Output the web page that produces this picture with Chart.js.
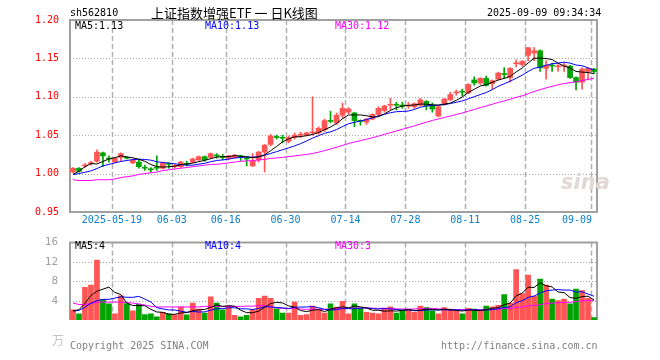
<!DOCTYPE html>
<html><head><meta charset="utf-8">
<script src="https://cdn.jsdelivr.net/npm/chart.js@4/dist/chart.umd.min.js"></script>
<style>
html,body{margin:0;padding:0;background:#fff;width:660px;height:360px;overflow:hidden;position:relative;}
.t{position:absolute;white-space:nowrap;font:10px 'DejaVu Sans Mono',monospace;line-height:12px;}
canvas{position:absolute;left:0;}
</style></head><body>
<canvas id="k" style="top:0" width="660" height="232"></canvas>
<canvas id="v" style="top:232px" width="660" height="128"></canvas>
<div class="t" style="left:70px;top:7px;color:#000">sh562810</div>
<div class="t" style="left:151px;top:5px;color:#000;font:13px 'Noto Sans CJK SC';line-height:16px">上证指数增强ETF 一 日K线图</div>
<div class="t" style="left:487px;top:7px;color:#000">2025-09-09 09:34:34</div>
<div class="t" id="m5" style="left:75px;top:20px;color:#000"></div>
<div class="t" id="m10" style="left:205px;top:20px;color:#0000ff"></div>
<div class="t" id="m30" style="left:335px;top:20px;color:#ff00ff"></div>
<div class="t" id="v5" style="left:75px;top:240px;color:#000"></div>
<div class="t" id="v10" style="left:205px;top:240px;color:#0000ff"></div>
<div class="t" id="v30" style="left:335px;top:240px;color:#ff00ff"></div>
<div class="t" style="left:52px;top:333px;color:#c4c4c4;font:12px 'Noto Sans CJK SC';line-height:14px">万</div>
<div class="t" style="left:70px;top:340px;color:#808080">Copyright 2025 SINA.COM</div>
<div class="t" style="left:441px;top:340px;color:#808080">http://finance.sina.com.cn</div>
<div class="t" style="left:561px;top:170px;color:#e2d8d8;font:italic bold 21px 'DejaVu Sans';line-height:24px">sina</div>
<script>
const dates = [
'2025-05-08','2025-05-09','2025-05-12','2025-05-13','2025-05-14','2025-05-15','2025-05-16','2025-05-19','2025-05-20','2025-05-21',
'2025-05-22','2025-05-23','2025-05-26','2025-05-27','2025-05-28','2025-05-29','2025-05-30','2025-06-03','2025-06-04','2025-06-05',
'2025-06-06','2025-06-09','2025-06-10','2025-06-11','2025-06-12','2025-06-13','2025-06-16','2025-06-17','2025-06-18','2025-06-19',
'2025-06-20','2025-06-23','2025-06-24','2025-06-25','2025-06-26','2025-06-27','2025-06-30','2025-07-01','2025-07-02','2025-07-03',
'2025-07-04','2025-07-07','2025-07-08','2025-07-09','2025-07-10','2025-07-11','2025-07-14','2025-07-15','2025-07-16','2025-07-17',
'2025-07-18','2025-07-21','2025-07-22','2025-07-23','2025-07-24','2025-07-25','2025-07-28','2025-07-29','2025-07-30','2025-07-31',
'2025-08-01','2025-08-04','2025-08-05','2025-08-06','2025-08-07','2025-08-08','2025-08-11','2025-08-12','2025-08-13','2025-08-14',
'2025-08-15','2025-08-18','2025-08-19','2025-08-20','2025-08-21','2025-08-22','2025-08-25','2025-08-26','2025-08-27','2025-08-28',
'2025-08-29','2025-09-01','2025-09-02','2025-09-03','2025-09-04','2025-09-05','2025-09-08','2025-09-09'];

const openP = [
1.002,1.007,1.010,1.013,1.016,1.027,1.020,1.015,1.021,1.021,
1.014,1.015,1.008,1.006,1.008,1.007,1.013,1.009,1.009,1.013,
1.015,1.018,1.022,1.021,1.024,1.022,1.020,1.021,1.023,1.020,
1.010,1.018,1.028,1.038,1.048,1.047,1.042,1.047,1.050,1.050,
1.053,1.053,1.057,1.069,1.066,1.076,1.080,1.079,1.069,1.067,
1.071,1.077,1.082,1.089,1.090,1.089,1.088,1.087,1.089,1.094,
1.088,1.075,1.090,1.096,1.105,1.107,1.105,1.122,1.118,1.124,
1.117,1.123,1.130,1.125,1.143,1.142,1.154,1.157,1.160,1.137,
1.141,1.139,1.140,1.140,1.125,1.119,1.133,1.136];

const highP = [
1.008,1.008,1.013,1.016,1.031,1.028,1.023,1.021,1.027,1.022,
1.019,1.018,1.011,1.008,1.023,1.015,1.014,1.012,1.016,1.016,
1.020,1.023,1.023,1.027,1.026,1.025,1.024,1.025,1.024,1.022,
1.026,1.029,1.038,1.051,1.050,1.050,1.049,1.053,1.054,1.054,
1.100,1.061,1.071,1.081,1.079,1.092,1.086,1.080,1.070,1.072,
1.078,1.087,1.089,1.098,1.093,1.093,1.093,1.092,1.098,1.095,
1.092,1.088,1.098,1.106,1.109,1.110,1.117,1.126,1.125,1.127,
1.122,1.132,1.138,1.138,1.148,1.147,1.164,1.164,1.161,1.147,
1.144,1.142,1.144,1.141,1.126,1.138,1.138,1.137];

const lowP = [
1.001,1.002,1.008,1.011,1.015,1.009,1.015,1.014,1.016,1.019,
1.013,1.007,1.004,1.002,1.004,1.006,1.007,1.007,1.008,1.010,
1.014,1.017,1.016,1.020,1.020,1.018,1.018,1.020,1.017,1.010,
1.009,1.015,1.002,1.036,1.045,1.040,1.040,1.045,1.047,1.049,
1.050,1.051,1.055,1.066,1.064,1.072,1.078,1.061,1.063,1.064,
1.070,1.075,1.080,1.083,1.083,1.085,1.085,1.085,1.088,1.083,
1.080,1.074,1.089,1.095,1.102,1.101,1.104,1.115,1.116,1.114,
1.110,1.122,1.124,1.119,1.139,1.140,1.147,1.147,1.133,1.123,
1.133,1.133,1.133,1.124,1.109,1.110,1.122,1.130];

const closeP = [
1.007,1.003,1.011,1.014,1.028,1.023,1.019,1.020,1.026,1.020,
1.018,1.009,1.007,1.005,1.007,1.014,1.012,1.010,1.015,1.012,
1.019,1.022,1.018,1.026,1.023,1.021,1.023,1.024,1.022,1.019,
1.016,1.028,1.037,1.049,1.047,1.046,1.047,1.050,1.051,1.053,
1.054,1.059,1.069,1.068,1.076,1.085,1.084,1.069,1.068,1.071,
1.077,1.085,1.088,1.090,1.089,1.088,1.089,1.091,1.096,1.088,
1.084,1.087,1.097,1.103,1.106,1.106,1.116,1.118,1.124,1.115,
1.121,1.131,1.129,1.137,1.144,1.146,1.164,1.160,1.138,1.141,
1.140,1.140,1.141,1.125,1.119,1.136,1.137,1.133];

// volume, in 万
const volume = [
2.08,1.28,6.77,7.2,12.37,4.27,3.36,1.28,5.01,3.41,
1.92,3.3,1.12,1.28,0.64,1.6,1.28,1.07,2.67,1.07,
3.52,2.24,1.44,4.8,3.52,2.08,2.93,0.96,0.64,0.96,
2.08,4.48,4.96,4.48,2.29,1.44,1.44,3.68,0.96,1.12,
2.88,2.24,1.44,3.36,2.67,3.84,1.28,3.36,2.4,1.6,
1.44,1.28,2.4,2.72,1.44,2.08,2.08,1.6,2.88,2.56,
1.92,1.28,2.56,2.24,1.92,1.28,2.4,2.24,1.92,2.88,
2.72,3.04,5.28,3.52,10.4,5.44,9.28,4.96,8.48,7.2,
4.32,4.0,4.32,3.36,6.4,6.08,4.48,0.48];

// moving-average values at the start of the window (they depend on days before the window)
const ma5Head  = [0.999,1.003,1.009,1.013];
const ma10Head = [0.9987,1.000,1.0018,1.0035,1.0066,1.010,1.012,1.014,1.0158];
const ma30Head = [0.992,0.991,0.991,0.991,0.992,0.992,0.992,0.993,0.995,0.996,
                  0.997,0.999,1.000,1.001,1.002,1.004,1.005,1.006,1.007,1.008,
                  1.009,1.010,1.011,1.012,1.012,1.013,1.014,1.015,1.016];
const vma5Head  = [1.87,2.13,3.47,5.07];
const vma10Head = [1.87,1.97,2.67,3.47,4.0,4.27,4.27,4.53,4.8];
const vma30Head = [3.5,3.2,3.2,3.4,3.7,3.7,3.7,3.7,3.7,3.6,
                   3.5,3.3,3.1,2.8,2.7,2.7,2.7,2.7,2.7,2.7,
                   2.7,2.7,2.8,2.8,2.8,2.8,2.8,2.8,2.8];

const tickDates = ['2025-05-19','2025-06-03','2025-06-16','2025-06-30','2025-07-14','2025-07-28','2025-08-11','2025-08-25','2025-09-09'];
const tickText  = ['2025-05-19','06-03','06-16','06-30','07-14','07-28','08-11','08-25','09-09'];
const priceTicks = {min:0.95, max:1.20, step:0.05};
const volTicks = {min:0, max:16, step:4};

const RED = '#ff5555', GREEN = '#00a300';
const MONO = "'DejaVu Sans Mono', monospace";

function movingAvg(arr, n, head){
  return arr.map((_, i) => {
    if (i < n - 1) return head[i];
    let s = 0; for (let j = i - n + 1; j <= i; j++) s += arr[j];
    return s / n;
  });
}
const ma5 = movingAvg(closeP, 5, ma5Head);
const ma10 = movingAvg(closeP, 10, ma10Head);
const ma30 = movingAvg(closeP, 30, ma30Head);
const vma5 = movingAvg(volume, 5, vma5Head);
const vma10 = movingAvg(volume, 10, vma10Head);
const vma30 = movingAvg(volume, 30, vma30Head);

const last = a => a[a.length - 1];
const f2 = v => (Math.floor(v * 100 + 1e-6) / 100).toFixed(2);
const f0 = v => String(Math.floor(v + 1e-6));
document.getElementById('m5').textContent = 'MA5:' + f2(last(ma5));
document.getElementById('m10').textContent = 'MA10:' + f2(last(ma10));
document.getElementById('m30').textContent = 'MA30:' + f2(last(ma30));
document.getElementById('v5').textContent = 'MA5:' + f0(last(vma5));
document.getElementById('v10').textContent = 'MA10:' + f0(last(vma10));
document.getElementById('v30').textContent = 'MA30:' + f0(last(vma30));

const tickIdx = tickDates.map(d => dates.indexOf(d));
const upColor = ctx => closeP[ctx.dataIndex] >= openP[ctx.dataIndex] ? RED : GREEN;

function gridPlugin(drawBottom){
  return {
    id: 'sinaGrid',
    beforeDatasetsDraw(chart){
      const {ctx, chartArea: a, scales: {x, y}} = chart;
      ctx.save();
      ctx.strokeStyle = '#a8a8a8'; ctx.lineWidth = 1; ctx.setLineDash([1, 2]);
      y.ticks.forEach(t => {
        const py = Math.round(y.getPixelForValue(t.value)) + 0.5;
        if (py > a.top + 2 && py < a.bottom - 2) {
          ctx.beginPath(); ctx.moveTo(a.left, py); ctx.lineTo(a.right, py); ctx.stroke();
        }
      });
      const half = (x.getPixelForValue(1) - x.getPixelForValue(0)) / 2;
      ctx.setLineDash([5, 3]); ctx.lineWidth = 1.5; ctx.strokeStyle = '#b0b0b0';
      tickIdx.forEach(i => {
        const px = Math.round(x.getPixelForValue(i) - half) + 0.5;
        ctx.beginPath(); ctx.moveTo(px, a.top); ctx.lineTo(px, a.bottom); ctx.stroke();
      });
      ctx.setLineDash([]); ctx.strokeStyle = '#a0a0a0'; ctx.lineWidth = 2;
      ctx.beginPath();
      if (drawBottom) {
        ctx.rect(a.left, a.top, a.right - a.left, a.bottom - a.top);
      } else {
        ctx.moveTo(a.left, a.bottom); ctx.lineTo(a.left, a.top); ctx.lineTo(a.right, a.top); ctx.lineTo(a.right, a.bottom);
      }
      ctx.stroke();
      ctx.restore();
    }
  };
}

const xLabelPlugin = {
  id: 'xLabels',
  afterDraw(chart){
    const {ctx, chartArea: a, scales: {x}} = chart;
    const half = (x.getPixelForValue(1) - x.getPixelForValue(0)) / 2;
    ctx.save();
    ctx.font = '10px ' + MONO; ctx.fillStyle = '#0a80d0';
    ctx.textAlign = 'center'; ctx.textBaseline = 'middle';
    tickIdx.forEach((i, k) => {
      const txt = tickText[k];
      const w = ctx.measureText(txt).width;
      let cx = x.getPixelForValue(i) - half;
      if (cx + w / 2 > a.right - 5) cx = a.right - 5 - w / 2;
      ctx.fillText(txt, cx, a.bottom + 8);
    });
    ctx.restore();
  }
};

const baseX = {
  type: 'category', offset: true,
  grid: {display: false}, border: {display: false},
  ticks: {display: false},
  afterFit: s => { s.height = 20; }
};

new Chart(document.getElementById('k'), {
  type: 'bar',
  data: {
    labels: dates,
    datasets: [
      {type: 'line', data: ma5, borderColor: '#000', borderWidth: 1, pointRadius: 0, order: 0},
      {type: 'line', data: ma10, borderColor: '#0000ff', borderWidth: 1, pointRadius: 0, order: 0},
      {type: 'line', data: ma30, borderColor: '#ff00ff', borderWidth: 1, pointRadius: 0, order: 0},
      {data: dates.map((_, i) => [openP[i], closeP[i]]), backgroundColor: upColor, barThickness: 5,
       minBarLength: 1, grouped: false, borderWidth: 0, order: 1},
      {data: dates.map((_, i) => [lowP[i], highP[i]]), backgroundColor: upColor, barThickness: 1,
       grouped: false, borderWidth: 0, order: 2}
    ]
  },
  options: {
    responsive: false, animation: false, devicePixelRatio: 1,
    layout: {padding: {left: 0, right: 63, top: 20, bottom: 0}},
    plugins: {legend: {display: false}, tooltip: {enabled: false}},
    scales: {
      x: baseX,
      y: {
        min: priceTicks.min, max: priceTicks.max,
        grid: {display: false}, border: {display: false},
        ticks: {stepSize: priceTicks.step, color: '#ff0000', padding: 3,
                font: {family: MONO, size: 10}, callback: v => Number(v).toFixed(2)},
        afterFit: s => { s.width = 70; }
      }
    }
  },
  plugins: [gridPlugin(true), xLabelPlugin]
});

new Chart(document.getElementById('v'), {
  type: 'bar',
  data: {
    labels: dates,
    datasets: [
      {type: 'line', data: vma5, borderColor: '#000', borderWidth: 1, pointRadius: 0, order: 0},
      {type: 'line', data: vma10, borderColor: '#0000ff', borderWidth: 1, pointRadius: 0, order: 0},
      {type: 'line', data: vma30, borderColor: '#ff00ff', borderWidth: 1, pointRadius: 0, order: 0},
      {data: volume, backgroundColor: upColor, barThickness: 5, borderWidth: 0, order: 1}
    ]
  },
  options: {
    responsive: false, animation: false, devicePixelRatio: 1,
    layout: {padding: {left: 0, right: 63, top: 9, bottom: 20}},
    plugins: {legend: {display: false}, tooltip: {enabled: false}},
    scales: {
      x: Object.assign({}, baseX, {display: false}),
      y: {
        min: volTicks.min, max: volTicks.max,
        grid: {display: false}, border: {display: false},
        ticks: {stepSize: volTicks.step, color: '#a0a0a0', padding: 4,
                font: {family: MONO, size: 11}, callback: v => v === 0 ? '' : String(v)},
        afterFit: s => { s.width = 70; }
      }
    }
  },
  plugins: [gridPlugin(false)]
});
</script>
</body></html>
